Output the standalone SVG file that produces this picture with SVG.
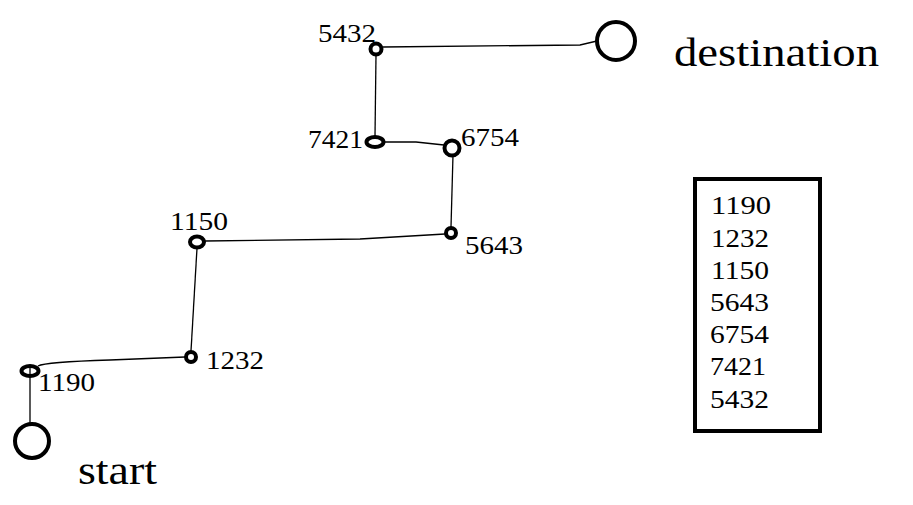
<svg xmlns="http://www.w3.org/2000/svg" width="913" height="505" viewBox="0 0 913 505">
<style>
.big{fill:none;stroke:#000;stroke-width:4}
.sm{fill:none;stroke:#000;stroke-width:4}
.edge{fill:none;stroke:#000;stroke-width:1.3}
text{font-family:"Liberation Serif",serif;fill:#000}
.lbl{font-size:26px}
.title{font-size:40px}
</style>
<rect width="913" height="505" fill="#fff"/>
<g id="connectors">
<path class="edge" d="M30,424 L30,367"/>
<path class="edge" d="M38,366 Q45,362 110,360 L185,357"/>
<path class="edge" d="M191,351 L197,248"/>
<path class="edge" d="M205,241 L360,239 L445,234"/>
<path class="edge" d="M451,227 L453,155"/>
<path class="edge" d="M444,145 L416,142 L384,142"/>
<path class="edge" d="M375,136 L376,55"/>
<path class="edge" d="M383,47 L580,45 L597,41"/>
</g>
<g id="start">
<circle class="big" cx="32" cy="441" r="17"/>
<text class="title" x="78" y="484" textLength="79" lengthAdjust="spacingAndGlyphs">start</text>
</g>
<g id="destination">
<circle class="big" cx="616" cy="41" r="19"/>
<text class="title" x="674" y="66" textLength="205" lengthAdjust="spacingAndGlyphs">destination</text>
</g>
<g id="n1190">
<ellipse class="sm" cx="30" cy="371" rx="8.5" ry="5"/>
<text class="lbl" x="38" y="391" textLength="57" lengthAdjust="spacingAndGlyphs">1190</text>
</g>
<g id="n1232">
<circle class="sm" cx="191" cy="357" r="5"/>
<text class="lbl" x="206" y="369" textLength="58" lengthAdjust="spacingAndGlyphs">1232</text>
</g>
<g id="n1150">
<ellipse class="sm" cx="197" cy="242" rx="7" ry="5.5"/>
<text class="lbl" x="170" y="230" textLength="58" lengthAdjust="spacingAndGlyphs">1150</text>
</g>
<g id="n5643">
<circle class="sm" cx="451" cy="233" r="5"/>
<text class="lbl" x="465" y="254" textLength="58" lengthAdjust="spacingAndGlyphs">5643</text>
</g>
<g id="n6754">
<circle class="sm" cx="452" cy="148" r="7.5"/>
<text class="lbl" x="461" y="146" textLength="58" lengthAdjust="spacingAndGlyphs">6754</text>
</g>
<g id="n7421">
<ellipse class="sm" cx="375" cy="142" rx="8.5" ry="5"/>
<text class="lbl" x="308" y="148" textLength="55" lengthAdjust="spacingAndGlyphs">7421</text>
</g>
<g id="n5432">
<circle class="sm" cx="376" cy="49" r="5.5"/>
<text class="lbl" x="318" y="42" textLength="58" lengthAdjust="spacingAndGlyphs">5432</text>
</g>
<g id="legend">
<rect x="695" y="179" width="125" height="252" fill="none" stroke="#000" stroke-width="4"/>
<text class="lbl" x="711" y="214" textLength="60" lengthAdjust="spacingAndGlyphs">1190</text>
<text class="lbl" x="711" y="247" textLength="58" lengthAdjust="spacingAndGlyphs">1232</text>
<text class="lbl" x="711" y="279" textLength="58" lengthAdjust="spacingAndGlyphs">1150</text>
<text class="lbl" x="710" y="311" textLength="59" lengthAdjust="spacingAndGlyphs">5643</text>
<text class="lbl" x="710" y="343" textLength="59" lengthAdjust="spacingAndGlyphs">6754</text>
<text class="lbl" x="710" y="375" textLength="56" lengthAdjust="spacingAndGlyphs">7421</text>
<text class="lbl" x="710" y="408" textLength="59" lengthAdjust="spacingAndGlyphs">5432</text>
</g>
</svg>
